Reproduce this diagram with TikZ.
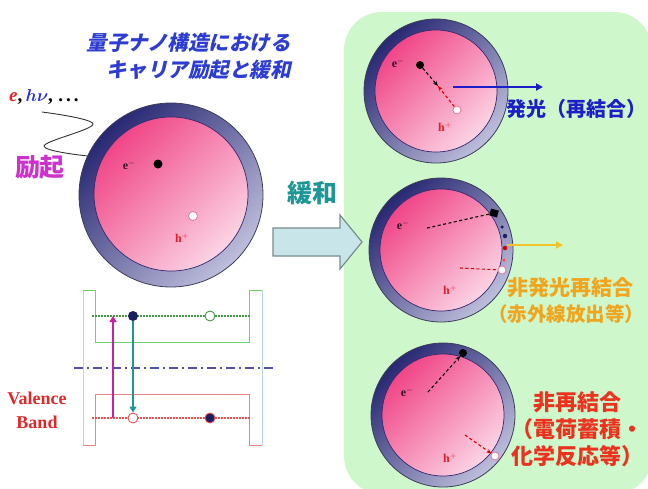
\documentclass[tikz,border=0pt]{standalone}
\usepackage{fontspec}
\setmainfont{Liberation Serif}
\newfontfamily\jp{Noto Sans CJK JP}
\newfontfamily\jpsl[FakeSlant=0.22]{Noto Sans CJK JP}
\usetikzlibrary{arrows.meta}

% palette
\definecolor{panelgreen}{RGB}{206,247,204}
\definecolor{shelldark}{RGB}{40,40,115}
\definecolor{shelllight}{RGB}{190,190,220}
\definecolor{shellline}{RGB}{60,60,90}
\definecolor{coreline}{RGB}{50,40,110}
\definecolor{pinkdark}{RGB}{240,70,135}
\definecolor{pinklight}{RGB}{252,212,228}
\definecolor{holeline}{RGB}{235,110,150}
\definecolor{titleblue}{RGB}{45,60,210}
\definecolor{ered}{RGB}{225,40,40}
\definecolor{hblue}{RGB}{40,50,210}
\definecolor{excmag}{RGB}{205,50,205}
\definecolor{relaxteal}{RGB}{30,150,150}
\definecolor{arrowfill}{RGB}{200,230,234}
\definecolor{arrowline}{RGB}{120,140,140}
\definecolor{cbgreen}{RGB}{110,210,110}
\definecolor{cbdot}{RGB}{70,150,70}
\definecolor{vbred}{RGB}{240,130,130}
\definecolor{vbdot}{RGB}{230,80,80}
\definecolor{wallblue}{RGB}{175,215,230}
\definecolor{midnavy}{RGB}{80,80,170}
\definecolor{dotnavy}{RGB}{30,30,100}
\definecolor{pumpcol}{RGB}{205,30,170}
\definecolor{emitblue}{RGB}{30,30,200}
\definecolor{emityellow}{RGB}{240,195,40}
\definecolor{nonradorange}{RGB}{240,165,30}
\definecolor{norecred}{RGB}{235,50,30}
\definecolor{elabcol}{RGB}{50,20,40}
\definecolor{hlabcol}{RGB}{225,30,40}

\tikzset{
  shell/.style={circle, draw=shellline, line width=0.8pt, inner sep=0pt,
    top color=shelldark, bottom color=shelllight, shading angle=45},
  core/.style={circle, draw=coreline, line width=0.7pt, inner sep=0pt,
    top color=pinkdark, bottom color=pinklight, shading angle=45},
  edot/.style={circle, fill=black, inner sep=0pt, minimum size=9pt},
  hdot/.style={circle, fill=white, draw=holeline, line width=0.7pt, inner sep=0pt, minimum size=9pt},
  tinydot/.style={circle, inner sep=0pt, minimum size=3.5pt},
  elab/.style={font=\bfseries\fontsize{12}{12}\selectfont, text=elabcol, inner sep=0pt},
  hlab/.style={font=\bfseries\fontsize{12}{12}\selectfont, text=hlabcol, inner sep=0pt},
  titletext/.style={font=\jpsl\bfseries\fontsize{20.5}{24}\selectfont, text=titleblue, inner sep=0pt},
  jplabel/.style={font=\jp\bfseries\fontsize{22}{27}\selectfont, inner sep=0pt, align=center},
  edash/.style={black, dashed, line width=1.1pt, dash pattern=on 3pt off 2.5pt},
  hdash/.style={red!85!black, dashed, line width=1.1pt, dash pattern=on 3pt off 2.5pt},
  smalltip/.style={-{Stealth[length=5pt,width=4pt]}},
  bandedge/.style={line width=1pt},
}

\begin{document}
\begin{tikzpicture}[x=1pt,y=-1pt]
\useasboundingbox (0,0) rectangle (648,488);

% relaxation panel
\fill[panelgreen, rounded corners=38pt] (344,12) rectangle (652,494);

% ---------- title and excitation ----------
\node[titletext, anchor=east] (title1) at (291,43) {量子ナノ構造における};
\node[titletext, anchor=east] (title2) at (291,70) {キャリア励起と緩和};

\node[anchor=west, inner sep=0pt, font=\bfseries\fontsize{19}{22}\selectfont] (probe) at (9,97)
  {\textcolor{ered}{\textit{e}},\,\textcolor{hblue}{\boldmath$h\nu$},\;.\kern3pt.\kern3pt.};
\node[font=\jp\bfseries\fontsize{25}{28}\selectfont, text=excmag, inner sep=0pt] (excite) at (40,167) {励起};

% large quantum dot
\node[shell, minimum size=184pt] (qd) at (171,195) {};
\node[core, minimum size=154pt] (qdcore) at (171,194) {};
\node[edot] (qdE) at (158,164) {};
\node[hdot] (qdH) at (193,216) {};
\node[elab] (qdEl) at (129,165) {e$^{-}$};
\node[hlab] (qdHl) at (182,238) {h$^{+}$};

\coordinate (wave0) at (42,112);
\draw[black!80, line width=0.9pt] plot[smooth, tension=0.6] coordinates
  {(wave0) (93,124) (44,146) (qd.155)};

% ---------- relaxation arrow ----------
\node[font=\jp\bfseries\fontsize{25}{28}\selectfont, text=relaxteal, inner sep=0pt] (relax) at (312,193) {緩和};
\draw[arrowline, fill=arrowfill, line width=1.2pt]
  (273,228) -- (340,228) -- (340,215) -- (362,242) -- (340,269) -- (340,256) -- (273,256) -- cycle;

% ---------- band diagram ----------
\draw[wallblue, line width=0.8pt] (83,290) -- (83,445);
\draw[wallblue, line width=0.8pt] (262,290) -- (262,445);
\draw[cbgreen, bandedge] (83,290) -| (95,342) -| (249,290) -- (262,290);
\draw[vbred, bandedge] (83,445) -| (95,394) -| (249,445) -- (262,445);
\draw[cbdot, line width=2.6pt, dash pattern=on 1.8pt off 1.2pt] (92,316) -- (251,316);
\draw[vbdot, line width=2pt, dash pattern=on 1.8pt off 1.2pt] (92,418) -- (251,418);
\draw[midnavy, line width=2pt, dash pattern=on 9pt off 4pt on 2pt off 4pt] (74,368) -- (276,368);

\node[circle, fill=dotnavy, inner sep=0pt, minimum size=10pt] (cbE) at (133,316) {};
\node[circle, fill=white, draw=cbdot, line width=0.9pt, inner sep=0pt, minimum size=10pt] (cbH) at (210,316) {};
\node[circle, fill=white, draw=vbdot, line width=0.9pt, inner sep=0pt, minimum size=10pt] (vbH) at (133,418) {};
\node[circle, fill=dotnavy, draw=vbdot, line width=0.9pt, inner sep=0pt, minimum size=10pt] (vbE) at (210,418) {};

\coordinate (pumpS) at (113,418);
\coordinate (pumpE) at (113,316);
\draw[pumpcol, line width=2.2pt, -{Triangle[length=6pt,width=7pt]}] (pumpS) -- (pumpE);
\draw[relaxteal, line width=2.2pt, -{Triangle[length=6pt,width=7pt]}] (cbE) -- (vbH);

\node[font=\bfseries\fontsize{18}{24}\selectfont, text=ered, align=center, inner sep=0pt] (vband) at (37,410)
  {Valence\\Band};

% ---------- radiative recombination ----------
\node[shell, minimum size=144pt] (r1) at (436,91) {};
\node[core, minimum size=122pt] (r1c) at (436,91) {};
\node[edot, minimum size=8pt] (r1E) at (420,65) {};
\node[hdot, minimum size=8pt] (r1H) at (457,110) {};
\coordinate (r1M) at (438,86);
\node[elab] (r1El) at (398,63) {e$^{-}$};
\node[hlab] (r1Hl) at (445,127) {h$^{+}$};
\draw[edash, smalltip] (r1E) -- (r1M);
\draw[hdash, smalltip] (r1H) -- (r1M);
\coordinate (lum0) at (453,87);
\coordinate (lum1) at (543,87);
\draw[emitblue, line width=2pt, -{Triangle[length=7pt,width=7pt]}] (lum0) -- (lum1);
\node[font=\jp\bfseries\fontsize{20}{24}\selectfont, text=emitblue, anchor=west, inner sep=0pt] (lumtext) at (506,109) {発光（再結合）};

% ---------- non-radiative recombination ----------
\node[shell, minimum size=144pt] (r2) at (441,250) {};
\node[core, minimum size=122pt] (r2c) at (441,250) {};
\coordinate (r2Es) at (427,228);
\node[rectangle, fill=black, inner sep=0pt, minimum width=8pt, minimum height=7pt, rotate=-15] (r2E) at (494,213) {};
\node[tinydot, fill=dotnavy] (r2d1) at (502,227) {};
\node[tinydot, fill=dotnavy, minimum size=4.5pt] (r2d2) at (505,236) {};
\node[tinydot, fill=red!80!black, minimum size=4.5pt] (r2d3) at (505,248) {};
\node[tinydot, fill=red!70] (r2d4) at (504,260) {};
\node[hdot, minimum size=8pt] (r2H) at (502,270) {};
\coordinate (r2Hs) at (460,268);
\node[elab] (r2El) at (403,225) {e$^{-}$};
\node[hlab] (r2Hl) at (450,290) {h$^{+}$};
\draw[edash] (r2Es) -- (r2E);
\draw[hdash] (r2Hs) -- (r2H);
\coordinate (heat0) at (507,245);
\coordinate (heat1) at (563,245);
\draw[emityellow, line width=2pt, -{Triangle[length=7pt,width=7pt]}] (heat0) -- (heat1);
\node[jplabel, text=nonradorange, font=\jp\bfseries\fontsize{21}{26.5}\selectfont] (nrtext1) at (570,288)
  {非発光再結合};
\node[jplabel, text=nonradorange, font=\jp\bfseries\fontsize{19.5}{24}\selectfont] (nrtext2) at (566,314)
  {（赤外線放出等）};

% ---------- no recombination ----------
\node[shell, minimum size=144pt] (r3) at (443,415) {};
\node[core, minimum size=122pt] (r3c) at (443,415) {};
\node[edot, minimum size=8pt] (r3E) at (463,353) {};
\node[hdot, minimum size=8pt] (r3H) at (495,456) {};
\coordinate (r3Es) at (428,392);
\coordinate (r3Hs) at (465,435);
\node[elab] (r3El) at (407,392) {e$^{-}$};
\node[hlab] (r3Hl) at (450,458) {h$^{+}$};
\draw[edash, smalltip] (r3Es) -- (r3E);
\draw[hdash, smalltip] (r3Hs) -- (r3H);
\node[jplabel, text=norecred] (nctext) at (577,429) {非再結合\\（電荷蓄積・\\化学反応等）};

\end{tikzpicture}
\end{document}
